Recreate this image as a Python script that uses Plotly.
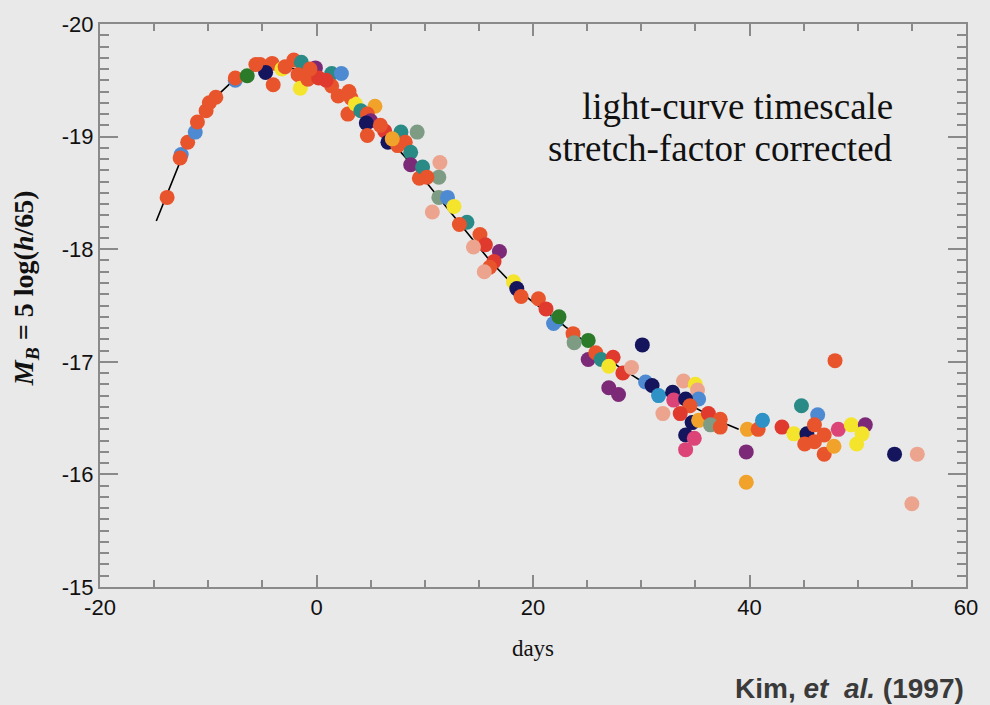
import plotly.graph_objects as go

# ---- data ----
palette = {
    "OR": "#e8552c", "RE": "#e03a2e", "GO": "#f0a22a", "YE": "#f4e42c",
    "NV": "#15155e", "BL": "#4e8ad2", "SB": "#2e92c6", "TE": "#2a8a86",
    "GR": "#2a7a2a", "PU": "#7c2a78", "PK": "#dc4478", "SA": "#eca48e",
    "GG": "#7e9c84",
}

days = [
    -13.8, -12.5, -12.6, -11.9, -11.2, -11.0, -10.2, -9.9, -9.3, -7.5, -7.5, -6.4,
    -5.2, -4.1, -4.7, -4.0, -3.2, -2.1, -1.4, -1.7, -1.5, -0.1, -0.8, 0.2, 1.4, 2.3,
    1.4, 2.0, 2.9, 3.2, 3.6, 4.1, 5.4, 4.7, 5.0, 4.6, 4.7, 6.3, 6.6, 7.8, 9.3, 7.5,
    8.2, 8.7, 8.7, 9.5, 9.8, 11.4, 11.3, 10.2, 10.7, 11.3, 12.1, 12.7, 13.9, 13.2,
    15.1, 15.6, 14.5, 16.9, 16.4, 16.0, 15.5, 18.2, 18.5, 18.9, 20.5, 21.2, 22.2,
    21.9, 22.4, 23.7, 25.1, 23.8, 25.1, 25.8, 26.3, 27.4, 30.1, 27.0, 28.3, 29.1,
    27.0, 27.9, 30.4, 31.0, 31.6, 32.9, 33.0, 33.9, 35.0, 35.2, 35.3, 34.1, 34.5,
    32.0, 33.6, 34.7, 35.3, 36.2, 37.3, 36.4, 37.3, 34.1, 34.9, 34.1, 39.8, 40.8,
    41.2, 43.0, 39.7, 39.7, 44.1, 44.8, 46.3, 45.3, 46.0, 46.9, 45.1, 46.0, 46.9,
    47.8, 48.2, 49.4, 50.7, 50.4, 49.9, 47.9, 53.4, 55.5, 55.0,
    -5.6, -2.9, -0.6, 0.9, 3.0, 5.9, 7.0,
]
mag = [
    -18.46, -18.84, -18.81, -18.95, -19.04, -19.13, -19.23, -19.30, -19.35, -19.50,
    -19.52, -19.54, -19.64, -19.65, -19.57, -19.46, -19.60, -19.68, -19.66, -19.55,
    -19.43, -19.61, -19.51, -19.52, -19.56, -19.56, -19.45, -19.36, -19.20, -19.34,
    -19.29, -19.23, -19.27, -19.20, -19.14, -19.12, -19.01, -19.05, -18.95, -19.04,
    -19.04, -18.92, -18.95, -18.86, -18.75, -18.63, -18.73, -18.77, -18.64, -18.64,
    -18.33, -18.46, -18.46, -18.38, -18.24, -18.22, -18.13, -18.04, -18.02, -17.98,
    -17.89, -17.84, -17.80, -17.71, -17.65, -17.58, -17.56, -17.47, -17.37, -17.34,
    -17.40, -17.25, -17.19, -17.17, -17.02, -17.08, -17.02, -17.04, -17.15, -16.96,
    -16.90, -16.95, -16.77, -16.71, -16.82, -16.79, -16.70, -16.73, -16.66, -16.83,
    -16.80, -16.75, -16.67, -16.67, -16.61, -16.54, -16.54, -16.46, -16.48, -16.54,
    -16.49, -16.44, -16.42, -16.35, -16.32, -16.22, -16.40, -16.40, -16.48, -16.42,
    -16.20, -15.93, -16.36, -16.61, -16.53, -16.36, -16.44, -16.35, -16.27, -16.29,
    -16.18, -16.25, -16.40, -16.44, -16.44, -16.36, -16.27, -17.01, -16.18, -16.18,
    -15.74,
    -19.64, -19.62, -19.60, -19.50, -19.40, -19.10, -18.98,
]
color_key = [
    "OR", "BL", "OR", "OR", "BL", "OR", "OR", "OR", "OR", "BL", "OR", "GR",
    "OR", "OR", "NV", "OR", "YE", "OR", "TE", "OR", "YE", "PU", "OR", "RE", "TE", "BL",
    "OR", "OR", "OR", "OR", "YE", "TE", "GO", "OR", "PU", "NV", "OR", "RE", "NV", "TE", "GG", "OR",
    "OR", "TE", "PU", "OR", "TE", "SA", "GG", "OR", "SA", "GG", "BL", "YE", "TE", "OR",
    "OR", "RE", "SA", "PU", "RE", "OR", "SA", "YE", "NV", "OR", "OR", "RE", "TE",
    "BL", "GR", "OR", "GR", "GG", "PU", "OR", "TE", "RE", "NV", "YE", "RE", "SA",
    "PU", "PU", "BL", "NV", "SB", "NV", "PK", "SA", "YE", "SA", "BL", "NV", "OR",
    "SA", "RE", "NV", "GO", "RE", "OR", "GG", "OR", "NV", "PK", "PK", "GO", "OR",
    "SB", "RE", "PU", "GO", "YE", "TE", "BL", "NV", "OR", "OR", "OR", "OR", "OR",
    "GO", "PK", "YE", "PU", "YE", "YE", "OR", "NV", "SA", "SA",
    "OR", "OR", "OR", "RE", "OR", "OR", "GO",
]

curve_days = [-14.8, -13, -12, -11, -10, -9, -8, -7, -6, -5, -4, -3, -2, -1, 0, 1, 2,
              3, 4, 5, 6, 7, 8, 9, 10, 11, 12, 13, 14, 15, 16, 17, 18, 19, 20, 21, 22,
              23, 24, 25, 26, 27, 28, 29, 30, 31, 32, 33, 34, 35, 36, 37, 38, 39]
curve_mag = [-18.25, -18.68, -18.92, -19.12, -19.27, -19.38, -19.47, -19.53, -19.58,
             -19.61, -19.62, -19.62, -19.60, -19.57, -19.53, -19.48, -19.41, -19.33,
             -19.24, -19.14, -19.04, -18.94, -18.84, -18.73, -18.61, -18.49, -18.37,
             -18.25, -18.13, -18.01, -17.90, -17.80, -17.70, -17.61, -17.53, -17.46,
             -17.39, -17.31, -17.24, -17.16, -17.09, -17.02, -16.95, -16.89, -16.83,
             -16.78, -16.73, -16.68, -16.64, -16.59, -16.54, -16.49, -16.44, -16.40]

x_ticks = [-20, 0, 20, 40, 60]
y_ticks = [-20, -19, -18, -17, -16, -15]

BG = "#e9e9e9"
AX = "#8a8a8a"

fig = go.Figure()
fig.add_trace(go.Scatter(
    x=curve_days, y=curve_mag, mode="lines",
    line=dict(color="black", width=1.6), hoverinfo="skip", showlegend=False))
fig.add_trace(go.Scatter(
    x=days, y=mag, mode="markers",
    marker=dict(size=15, color=[palette[k] for k in color_key], line=dict(width=0)),
    showlegend=False))

tickfont = dict(family="Liberation Sans, Arial, sans-serif", size=22, color="#111")
fig.update_xaxes(
    range=[-20, 60], tickvals=x_ticks, ticktext=[str(v) for v in x_ticks],
    showgrid=False, zeroline=False, showline=True, linecolor=AX, linewidth=2,
    mirror="allticks", ticks="inside", ticklen=12, tickwidth=1.5, tickcolor=AX,
    tickfont=tickfont,
    minor=dict(ticks="inside", dtick=5, tick0=0, ticklen=7, tickwidth=1.5,
               tickcolor=AX, showgrid=False),
    title=dict(text="days", font=dict(family="Liberation Serif, serif", size=23,
                                      color="#111"), standoff=20),
)
fig.update_yaxes(
    range=[-15, -20], tickvals=y_ticks, ticktext=[str(v) for v in y_ticks],
    showgrid=False, zeroline=False, showline=True, linecolor=AX, linewidth=2,
    mirror="allticks", ticks="inside", ticklen=18, tickwidth=1.5, tickcolor=AX,
    tickfont=tickfont,
    minor=dict(ticks="inside", dtick=0.1, tick0=-20, ticklen=9, tickwidth=1.5,
               tickcolor=AX, showgrid=False),
)

# y-axis title placed as a rotated annotation so it sits as far left as in the source
fig.add_annotation(
    x=-0.086, y=0.53, xref="paper", yref="paper", xanchor="center", yanchor="middle",
    textangle=-90, showarrow=False,
    text="<b><i>M</i><sub><i>B</i></sub> = 5 log(<i>h</i>/65)</b>",
    font=dict(family="Liberation Serif, serif", size=28, color="#111"))

serif_note = dict(family="Liberation Serif, serif", size=37, color="#111")
fig.add_annotation(
    x=0.9175, y=0.854, xref="paper", yref="paper", xanchor="right", yanchor="middle",
    text="light-curve timescale", showarrow=False, font=serif_note)
fig.add_annotation(
    x=0.9175, y=0.779, xref="paper", yref="paper", xanchor="right", yanchor="middle",
    text="stretch-factor corrected", showarrow=False, font=serif_note)

fig.add_annotation(
    x=1.0, y=-0.18, xref="paper", yref="paper", xanchor="right", yanchor="middle",
    text="<b>Kim, <i>et</i>&nbsp; <i>al.</i> (1997)</b>", showarrow=False,
    font=dict(family="Liberation Sans, Arial, sans-serif", size=28, color="#3a3a3a"))

fig.update_layout(
    width=990, height=705, paper_bgcolor=BG, plot_bgcolor=BG,
    margin=dict(l=100, r=17, t=17, b=118),
)
fig.write_html("out.html")
